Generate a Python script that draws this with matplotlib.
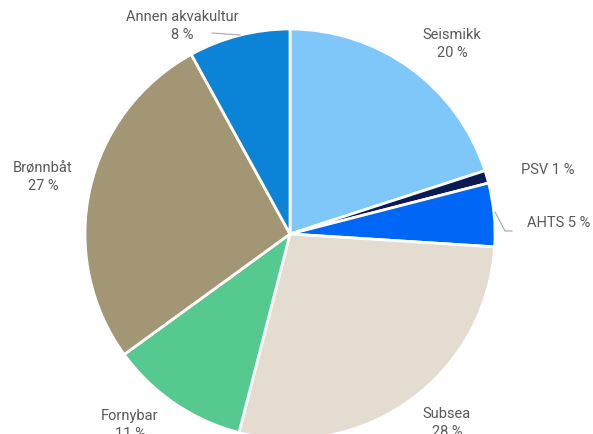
"""Pie chart of vessel segment shares."""

import matplotlib

matplotlib.use("Agg")
import matplotlib.pyplot as plt

W, H = 593, 435

segments = ["Seismikk", "PSV", "AHTS", "Subsea", "Fornybar", "Brønnbåt", "Annen akvakultur"]
shares = [20, 1, 5, 28, 11, 27, 8]
colors = ["#7FC7F8", "#0B1A55", "#0066F5", "#E4DBD1", "#55C98F", "#A29675", "#0B84D8"]

# label text positions in pixel coordinates (x, y from top)
label_pos = {
    "Seismikk": (452, 44, "center"),
    "PSV": (521, 170, "left"),
    "AHTS": (527, 223, "left"),
    "Subsea": (447, 423, "center"),
    "Fornybar": (130, 425, "center"),
    "Brønnbåt": (43, 177, "center"),
    "Annen akvakultur": (182, 26, "center"),
}

fig = plt.figure(figsize=(W / 100, H / 100), dpi=100)
ax = fig.add_axes([0, 0, 1, 1])

ax.pie(
    shares,
    colors=colors,
    startangle=90,
    counterclock=False,
    center=(290, H - 235),
    radius=205,
    frame=True,
    wedgeprops=dict(edgecolor="white", linewidth=2),
)
ax.set_xlim(0, W)
ax.set_ylim(0, H)
ax.set_aspect("equal")
ax.axis("off")

text_kw = dict(fontsize=10.5, color="#595959", family=["Roboto", "DejaVu Sans"])
for name, share in zip(segments, shares):
    x, y, ha = label_pos[name]
    if name in ("PSV", "AHTS"):
        txt = f"{name} {share} %"
    else:
        txt = f"{name}\n{share} %"
    ax.text(x, H - y, txt, ha=ha, va="center", linespacing=1.4, **text_kw)

# leader lines
ax.plot([212, 240], [H - 34, H - 36], color="#A6A6A6", lw=0.8)
ax.plot([495, 505, 512], [H - 213, H - 232, H - 232], color="#A6A6A6", lw=0.8)

fig.savefig("out.png", dpi=100)
